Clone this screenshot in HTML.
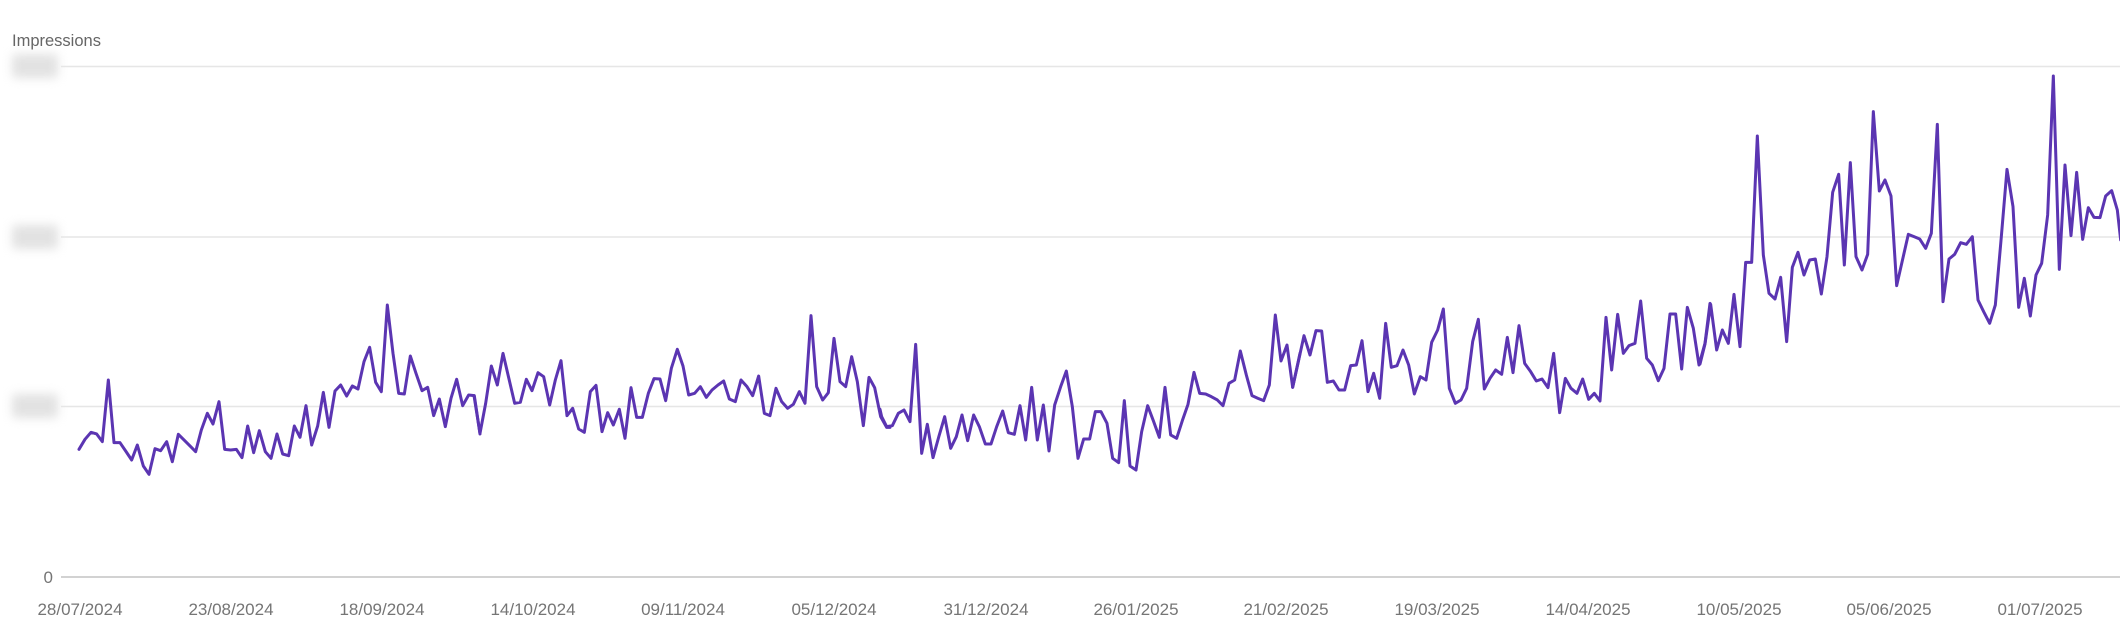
<!DOCTYPE html>
<html><head><meta charset="utf-8"><style>
html,body{margin:0;padding:0;background:#fff;}
body{width:2120px;height:641px;position:relative;overflow:hidden;font-family:"Liberation Sans",sans-serif;}
.blob{position:absolute;left:12px;width:46px;height:24px;background:#e2e2e2;filter:blur(5px);border-radius:4px;}
</style></head><body>
<div class="blob" style="top:54px"></div>
<div class="blob" style="top:225px"></div>
<div class="blob" style="top:394px"></div>
<svg width="2120" height="641" style="position:absolute;left:0;top:0" xmlns="http://www.w3.org/2000/svg">
<text x="12" y="46" font-size="16.5" fill="#666">Impressions</text>
<line x1="61" y1="66.5" x2="2120" y2="66.5" stroke="#e6e6e6" stroke-width="1.5"/>
<line x1="61" y1="237" x2="2120" y2="237" stroke="#e6e6e6" stroke-width="1.5"/>
<line x1="61" y1="406.5" x2="2120" y2="406.5" stroke="#e6e6e6" stroke-width="1.5"/>
<line x1="61" y1="577" x2="2120" y2="577" stroke="#c4c4c4" stroke-width="1.5"/>
<text x="53" y="583" font-size="17" fill="#757575" text-anchor="end">0</text>
<g font-size="17" fill="#757575" text-anchor="middle">
<text x="80" y="615">28/07/2024</text>
<text x="231" y="615">23/08/2024</text>
<text x="382" y="615">18/09/2024</text>
<text x="533" y="615">14/10/2024</text>
<text x="683" y="615">09/11/2024</text>
<text x="834" y="615">05/12/2024</text>
<text x="986" y="615">31/12/2024</text>
<text x="1136" y="615">26/01/2025</text>
<text x="1286" y="615">21/02/2025</text>
<text x="1437" y="615">19/03/2025</text>
<text x="1588" y="615">14/04/2025</text>
<text x="1739" y="615">10/05/2025</text>
<text x="1889" y="615">05/06/2025</text>
<text x="2040" y="615">01/07/2025</text>
</g>
<g fill="none" stroke="#5b35b2" stroke-width="3" stroke-linejoin="round" stroke-linecap="round">
<g transform="translate(60,250) scale(0.33333)"><polyline vector-effect="non-scaling-stroke" points="57,598 75,568 93,547 110,552 127,575 145,390 162,578 180,578 197,603 215,630 232,585 250,648 267,673 285,596 302,602 320,575 337,635 355,553 372,570 390,588 407,605 424,540 442,490 459,522 477,455 494,598 512,600 529,598 546,623 563,528 581,608 598,542 616,605 633,625 651,552 668,612 686,617 703,528 720,562 738,467 755,585 773,528 790,427 807,532 825,423 842,405 860,438 877,408 894,417 912,335 929,292 947,397 964,425 982,165 999,310 1016,430 1033,432 1051,318 1068,370 1086,422 1103,412 1121,497 1138,447 1156,530 1173,445 1190,388 1208,467 1226,435 1243,437 1260,552"/></g>
<g transform="translate(470,250) scale(0.33333)"><polyline vector-effect="non-scaling-stroke" points="12,437 30,550 47,460 64,348 82,405 99,310 117,387 134,460 151,457 169,388 186,422 204,368 221,380 239,465 256,390 273,332 291,497 308,475 326,537 343,547 361,425 378,406 396,545 413,488 430,525 448,478 465,565 483,413 500,502 517,502 535,430 552,386 570,387 587,452 604,355 622,298 639,348 656,435 674,430 691,410 709,442 726,420 744,405 761,393 778,447 796,455 813,390 831,410 848,437 866,378 883,490 900,497 918,415 935,455 953,475 970,463 988,425 1005,460 1023,197 1040,410 1058,450 1075,428 1092,265 1110,395 1127,410 1145,320 1162,395 1180,527 1197,382 1214,413 1232,500 1250,532 1260,532"/></g>
<g transform="translate(880,250) scale(0.33333)"><polyline vector-effect="non-scaling-stroke" points="0,478 5,500 20,530 37,527 55,490 72,480 90,515 107,283 125,610 142,523 159,623 177,558 194,500 212,595 229,560 246,495 263,572 281,495 298,530 316,582 333,582 350,530 368,483 385,548 403,553 420,467 437,570 455,412 472,570 490,465 507,603 524,465 542,410 559,363 577,470 594,625 611,567 629,567 646,485 663,485 681,520 698,625 716,638 733,452 750,648 768,660 785,545 803,467 820,512 838,562 855,412 872,555 890,565 907,512 924,463 942,367 959,430 977,432 994,440 1012,450 1029,467 1047,400 1064,390 1081,303 1099,375 1116,437 1134,445 1151,452 1168,405 1186,195 1203,333 1221,285 1238,412 1260,310"/></g>
<g transform="translate(1290,80) scale(0.33333)"><polyline vector-effect="non-scaling-stroke" points="8,922 25,845 42,767 60,825 78,752 95,753 112,907 130,903 147,930 164,930 182,857 199,855 216,782 234,935 251,880 269,955 287,730 304,862 321,857 339,810 356,855 373,942 391,890 408,900 425,787 443,750 460,687 478,925 496,970 513,960 530,925 548,785 565,718 583,927 600,895 617,870 635,883 652,772 669,878 687,737 704,850 722,875 739,903 756,897 774,923 791,820 809,998 826,895 843,925 861,940 878,897 896,958 913,940 930,963 948,712 965,870 983,703 1000,820 1017,797 1035,790 1052,663 1070,835 1087,855 1105,902 1122,865 1140,702 1157,702 1175,867 1192,682 1210,745 1227,855 1245,790 1260,670"/></g>
<g transform="translate(1700,60) scale(0.33333)"><polyline vector-effect="non-scaling-stroke" points="0,912 15,852 32,733 50,870 67,810 85,850 102,703 120,860 137,607 155,607 172,228 190,585 207,700 225,717 242,652 260,845 277,622 294,577 312,645 329,600 346,597 364,702 381,590 398,397 416,343 433,615 451,308 468,590 486,630 503,583 520,155 538,393 555,360 573,408 590,677 607,602 625,523 642,530 659,537 677,565 694,520 712,193 729,725 747,597 764,583 782,548 799,553 817,530 834,720 851,755 869,790 886,735 904,530 921,328 939,440 956,742 973,655 991,768 1008,645 1025,610 1043,465 1060,48 1078,628 1095,315 1113,527 1130,337 1148,538 1165,443 1182,472 1200,473 1217,408 1235,392 1252,450 1262,540"/></g>
</g>
</svg>
</body></html>
